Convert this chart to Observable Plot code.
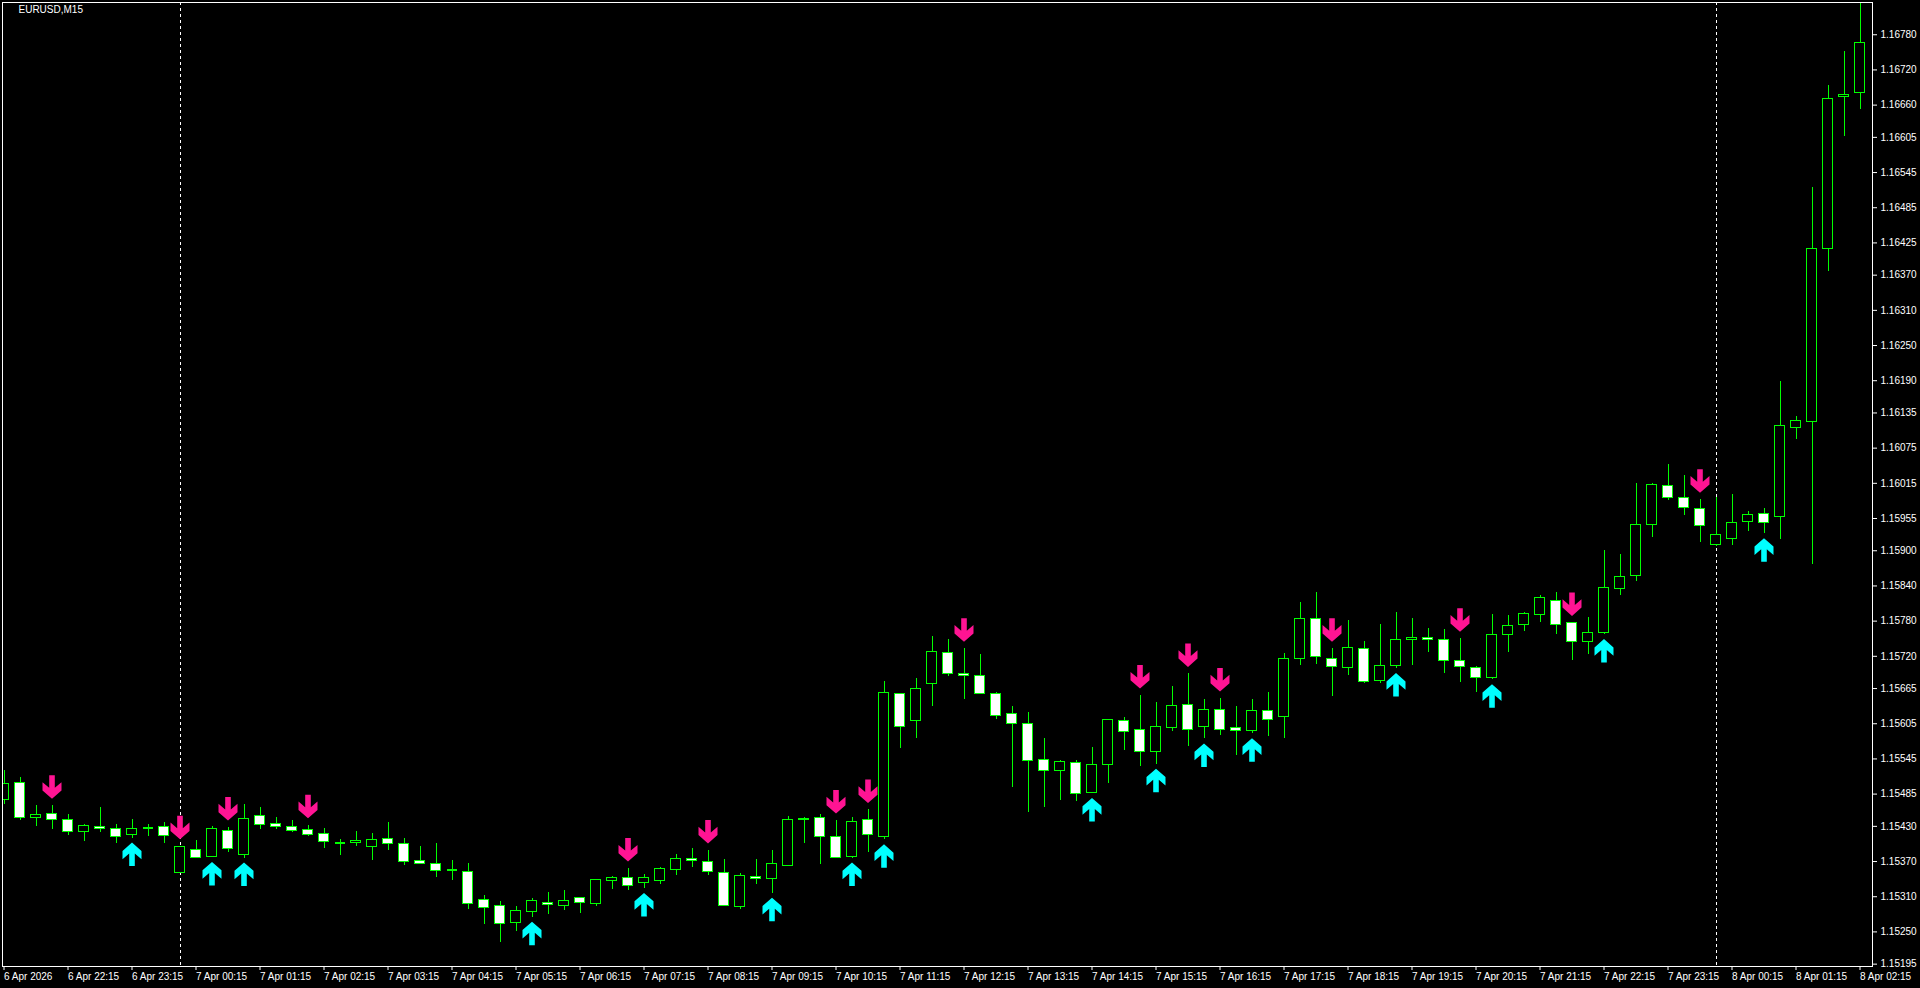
<!DOCTYPE html>
<html>
<head>
<meta charset="utf-8">
<script src="https://cdn.jsdelivr.net/npm/d3@7"></script>
<script src="https://cdn.jsdelivr.net/npm/@observablehq/plot@0.6"></script>
<style>
  html, body { margin: 0; padding: 0; background: #000; overflow: hidden; }
  #chart svg { display: block; }
</style>
</head>
<body>
<div id="chart"></div>
<script>
// ---- Data: EURUSD M15, bars from 6 Apr 21:15 to 8 Apr 02:15 ----
const symbolLabel = "EURUSD,M15";

const open = [
1.15475, 1.15504, 1.15445, 1.15451, 1.15440, 1.15421, 1.15429, 1.15426, 1.15416, 1.15427,
1.15429, 1.15351, 1.15390, 1.15378, 1.15422, 1.15382, 1.15448, 1.15434, 1.15429, 1.15424,
1.15417, 1.15402, 1.15401, 1.15395, 1.15409, 1.15400, 1.15371, 1.15365, 1.15355, 1.15353,
1.15305, 1.15295, 1.15265, 1.15284, 1.15300, 1.15294, 1.15307, 1.15297, 1.15337, 1.15342,
1.15334, 1.15337, 1.15356, 1.15375, 1.15370, 1.15351, 1.15293, 1.15344, 1.15341, 1.15363,
1.15443, 1.15445, 1.15411, 1.15377, 1.15440, 1.15412, 1.15656, 1.15610, 1.15673, 1.15726,
1.15690, 1.15687, 1.15656, 1.15622, 1.15605, 1.15544, 1.15525, 1.15538, 1.15487, 1.15535,
1.15610, 1.15595, 1.15556, 1.15598, 1.15637, 1.15600, 1.15629, 1.15598, 1.15593, 1.15627,
1.15617, 1.15716, 1.15784, 1.15716, 1.15700, 1.15733, 1.15678, 1.15704, 1.15748, 1.15752,
1.15748, 1.15712, 1.15700, 1.15683, 1.15757, 1.15774, 1.15791, 1.15815, 1.15776, 1.15745,
1.15760, 1.15835, 1.15857, 1.15944, 1.16011, 1.15990, 1.15972, 1.15909, 1.15920, 1.15949,
1.15963, 1.15958, 1.16109, 1.16120, 1.16415, 1.16673, 1.16680
];

const high = [
1.15525, 1.15513, 1.15465, 1.15465, 1.15450, 1.15434, 1.15462, 1.15433, 1.15441, 1.15434,
1.15436, 1.15396, 1.15406, 1.15430, 1.15428, 1.15467, 1.15462, 1.15445, 1.15440, 1.15432,
1.15426, 1.15408, 1.15421, 1.15418, 1.15437, 1.15410, 1.15396, 1.15401, 1.15372, 1.15367,
1.15312, 1.15302, 1.15293, 1.15307, 1.15317, 1.15321, 1.15309, 1.15340, 1.15345, 1.15358,
1.15348, 1.15360, 1.15382, 1.15392, 1.15389, 1.15373, 1.15349, 1.15373, 1.15388, 1.15446,
1.15445, 1.15451, 1.15440, 1.15445, 1.15458, 1.15677, 1.15657, 1.15682, 1.15754, 1.15749,
1.15733, 1.15723, 1.15658, 1.15634, 1.15625, 1.15579, 1.15542, 1.15542, 1.15565, 1.15613,
1.15615, 1.15653, 1.15641, 1.15668, 1.15690, 1.15646, 1.15648, 1.15634, 1.15646, 1.15658,
1.15724, 1.15811, 1.15828, 1.15733, 1.15781, 1.15745, 1.15774, 1.15794, 1.15784, 1.15767,
1.15765, 1.15750, 1.15702, 1.15791, 1.15790, 1.15795, 1.15823, 1.15828, 1.15777, 1.15787,
1.15900, 1.15893, 1.16014, 1.16015, 1.16047, 1.16028, 1.15987, 1.15990, 1.15996, 1.15967,
1.15972, 1.16189, 1.16129, 1.16520, 1.16694, 1.16752, 1.16833
];

const low = [
1.15467, 1.15440, 1.15429, 1.15425, 1.15415, 1.15405, 1.15420, 1.15400, 1.15410, 1.15412,
1.15400, 1.15349, 1.15376, 1.15377, 1.15386, 1.15376, 1.15424, 1.15424, 1.15419, 1.15413,
1.15393, 1.15381, 1.15395, 1.15371, 1.15389, 1.15364, 1.15366, 1.15343, 1.15337, 1.15289,
1.15263, 1.15232, 1.15251, 1.15275, 1.15279, 1.15287, 1.15282, 1.15294, 1.15323, 1.15320,
1.15324, 1.15331, 1.15346, 1.15359, 1.15346, 1.15295, 1.15289, 1.15331, 1.15316, 1.15362,
1.15400, 1.15365, 1.15375, 1.15376, 1.15386, 1.15407, 1.15563, 1.15580, 1.15635, 1.15685,
1.15647, 1.15655, 1.15613, 1.15497, 1.15454, 1.15462, 1.15474, 1.15472, 1.15486, 1.15503,
1.15559, 1.15532, 1.15536, 1.15591, 1.15567, 1.15579, 1.15585, 1.15550, 1.15588, 1.15583,
1.15579, 1.15704, 1.15706, 1.15651, 1.15687, 1.15673, 1.15673, 1.15699, 1.15704, 1.15726,
1.15690, 1.15675, 1.15658, 1.15680, 1.15726, 1.15762, 1.15777, 1.15758, 1.15712, 1.15723,
1.15757, 1.15823, 1.15847, 1.15922, 1.15985, 1.15960, 1.15914, 1.15908, 1.15909, 1.15932,
1.15929, 1.15920, 1.16090, 1.15877, 1.16376, 1.16607, 1.16652
];

const close = [
1.15503, 1.15445, 1.15450, 1.15440, 1.15421, 1.15431, 1.15426, 1.15411, 1.15426, 1.15427,
1.15414, 1.15394, 1.15376, 1.15426, 1.15392, 1.15443, 1.15433, 1.15429, 1.15422, 1.15416,
1.15404, 1.15402, 1.15405, 1.15407, 1.15400, 1.15369, 1.15366, 1.15354, 1.15355, 1.15297,
1.15291, 1.15263, 1.15286, 1.15303, 1.15296, 1.15303, 1.15299, 1.15339, 1.15342, 1.15329,
1.15342, 1.15358, 1.15375, 1.15371, 1.15353, 1.15295, 1.15346, 1.15341, 1.15366, 1.15440,
1.15440, 1.15411, 1.15376, 1.15438, 1.15416, 1.15658, 1.15600, 1.15665, 1.15728, 1.15690,
1.15687, 1.15656, 1.15619, 1.15605, 1.15542, 1.15525, 1.15540, 1.15486, 1.15535, 1.15612,
1.15591, 1.15556, 1.15600, 1.15636, 1.15595, 1.15629, 1.15595, 1.15593, 1.15627, 1.15612,
1.15716, 1.15784, 1.15718, 1.15702, 1.15735, 1.15677, 1.15704, 1.15748, 1.15752, 1.15748,
1.15712, 1.15702, 1.15683, 1.15757, 1.15772, 1.15793, 1.15820, 1.15774, 1.15745, 1.15760,
1.15837, 1.15856, 1.15944, 1.16013, 1.15990, 1.15973, 1.15943, 1.15927, 1.15948, 1.15961,
1.15948, 1.16112, 1.16121, 1.16415, 1.16671, 1.16677, 1.16766
];

// Signal arrows (bar indexes): sell arrows above the high, buy arrows below the low
const sellSignals = [3, 11, 14, 19, 39, 44, 52, 54, 60, 71, 74, 76, 83, 91, 98, 106];
const buySignals  = [8, 13, 15, 33, 40, 48, 53, 55, 68, 72, 75, 78, 87, 93, 100, 110];

// Day separators (bar indexes of 7 Apr 00:00 and 8 Apr 00:00)
const daySeparators = [11, 107];

// Axis labels
const xTickLabels = [
"6 Apr 2026", "6 Apr 22:15", "6 Apr 23:15",
"7 Apr 00:15", "7 Apr 01:15", "7 Apr 02:15", "7 Apr 03:15", "7 Apr 04:15", "7 Apr 05:15",
"7 Apr 06:15", "7 Apr 07:15", "7 Apr 08:15", "7 Apr 09:15", "7 Apr 10:15", "7 Apr 11:15",
"7 Apr 12:15", "7 Apr 13:15", "7 Apr 14:15", "7 Apr 15:15", "7 Apr 16:15", "7 Apr 17:15",
"7 Apr 18:15", "7 Apr 19:15", "7 Apr 20:15", "7 Apr 21:15", "7 Apr 22:15", "7 Apr 23:15",
"8 Apr 00:15", "8 Apr 01:15", "8 Apr 02:15"
];
const barsPerLabel = 4;

const yTickValues = [
1.16780, 1.16720, 1.16660, 1.16605, 1.16545, 1.16485, 1.16425, 1.16370, 1.16310, 1.16250,
1.16190, 1.16135, 1.16075, 1.16015, 1.15955, 1.15900, 1.15840, 1.15780, 1.15720, 1.15665,
1.15605, 1.15545, 1.15485, 1.15430, 1.15370, 1.15310, 1.15250, 1.15195
];

// ---- Scale settings ----
const xDomain = [-0.09375, 116.78125];
const yDomain = [1.15191, 1.16835];
const bodyHalf = 0.3125;   // body half-width in bar units
const dojiHalf = 0.3125;

// ---- Build table ----
const bars = open.map((o, i) => ({i, o, h: high[i], l: low[i], c: close[i]}));
const bulls = bars.filter(d => d.c > d.o);
const bears = bars.filter(d => d.c < d.o);
const dojis = bars.filter(d => d.c === d.o);
const xTickIdx = xTickLabels.map((_, k) => k * barsPerLabel);

// Arrow glyphs (pixel shapes, tip offset from the anchor)
function arrowGlyph(dir, gap) {
  // dir = +1 points down (tip above anchor), -1 points up (tip below anchor)
  const s = -dir;
  const t = -dir * gap;
  const pts = [[0,0],[9.5,8.3],[9.5,16.7],[2.8,11],[2.8,23.5],[-2.8,23.5],[-2.8,11],[-9.5,16.7],[-9.5,8.3]];
  return {
    draw(ctx) {
      pts.forEach(([px, py], k) => {
        const X = px, Y = t + s * py;
        if (k === 0) ctx.moveTo(X, Y); else ctx.lineTo(X, Y);
      });
      ctx.closePath();
    }
  };
}
const downArrow = arrowGlyph(1, 7);
const upArrow = arrowGlyph(-1, 4.5);

const lime = "#00ff00";
const crisp = "crispEdges";

const chart = Plot.plot({
  width: 1920,
  height: 988,
  marginLeft: 2,
  marginRight: 48,
  marginTop: 2,
  marginBottom: 22,
  style: {
    background: "#000000",
    color: "#ffffff",
    fontFamily: "'Liberation Sans', Arial, sans-serif",
    fontSize: "10px"
  },
  x: {type: "linear", domain: xDomain, axis: null},
  y: {type: "linear", domain: yDomain, axis: null},
  marks: [
    Plot.ruleX(daySeparators, {x: d => d, stroke: "#ffffff", strokeDasharray: "3,3", strokeWidth: 1, shapeRendering: crisp}),
    Plot.ruleX(bars, {x: "i", y1: "l", y2: "h", stroke: lime, strokeWidth: 1, clip: true, shapeRendering: crisp}),
    Plot.rect(bulls, {x1: d => d.i - bodyHalf, x2: d => d.i + bodyHalf, y1: "o", y2: "c",
      fill: "#000000", stroke: lime, strokeWidth: 1, clip: true, shapeRendering: crisp}),
    Plot.rect(bears, {x1: d => d.i - bodyHalf, x2: d => d.i + bodyHalf, y1: "o", y2: "c",
      fill: "#ffffff", stroke: lime, strokeWidth: 1, clip: true, shapeRendering: crisp}),
    Plot.ruleY(dojis, {y: "o", x1: d => d.i - dojiHalf, x2: d => d.i + dojiHalf,
      stroke: lime, strokeWidth: 2, clip: true, shapeRendering: crisp}),
    Plot.dot(sellSignals.map(i => bars[i]), {x: "i", y: "h", symbol: downArrow, fill: "#ff1493", stroke: "none", r: 10}),
    Plot.dot(buySignals.map(i => bars[i]), {x: "i", y: "l", symbol: upArrow, fill: "#00ffff", stroke: "none", r: 10}),
    Plot.frame({stroke: "#ffffff", shapeRendering: crisp}),
    Plot.axisX({
      ticks: xTickIdx,
      tickFormat: d => xTickLabels[Math.round(d / barsPerLabel)],
      tickSize: 4, tickPadding: 2, textAnchor: "start", label: null,
      fill: "#ffffff", stroke: "#ffffff"
    }),
    Plot.axisY({
      anchor: "right",
      ticks: yTickValues,
      tickFormat: d3.format(".5f"),
      tickSize: 4, tickPadding: 4, label: null,
      fill: "#ffffff", stroke: "#ffffff"
    }),
    Plot.text([symbolLabel], {frameAnchor: "top-left", dx: 16, dy: 3, textAnchor: "start",
      lineAnchor: "top", fill: "#ffffff", fontSize: 10, text: d => d})
  ]
});

document.getElementById("chart").appendChild(chart);
</script>
</body>
</html>
